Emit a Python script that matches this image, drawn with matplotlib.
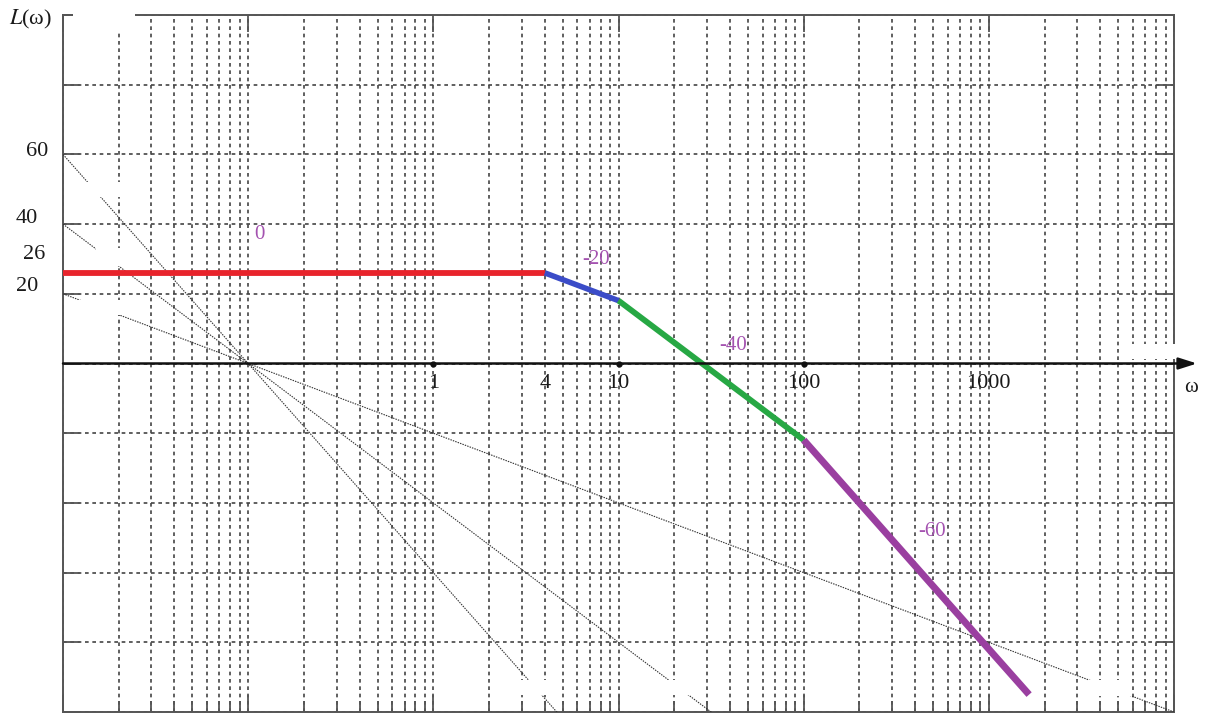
import matplotlib
matplotlib.use('Agg')
import matplotlib.pyplot as plt
import numpy as np
from matplotlib.patches import Rectangle
from matplotlib.ticker import LogLocator, MultipleLocator, NullFormatter

plt.rcParams['font.family'] = ['Liberation Serif', 'DejaVu Serif']
plt.rcParams['mathtext.fontset'] = 'stix'

# asymptotic magnitude: corner frequencies, slopes (dB/dec) and starting level
w_break = [0.01, 4, 10, 100, 1650]
slopes = [0, -20, -40, -60]
L_start = 26
seg_colors = ['#e8242c', '#3b4cc8', '#27a844', '#9a3fa0']
seg_widths = [4.2, 4.0, 4.2, 5.0]

# helper asymptotes, all through (0.1, 0 dB)
ref_w0 = 0.1
ref_slopes = [-20, -40, -60]

x_labels = ['1', '4', '10', '100', '1000']
x_label_w = [1, 4, 10, 100, 1000]
y_labels = ['60', '40', '26', '20']
slope_labels = ['0', '-20', '-40', '-60']
axis_dots = [1, 10, 100]

W, H = 1227, 713
fig = plt.figure(figsize=(W / 100, H / 100), dpi=100)
ax = fig.add_axes([63 / W, 1 / H, 1111 / W, 697 / H])
ax.set_xscale('log')
ax.set_xlim(0.01, 10000)
ax.set_ylim(-100, 100)

# graph paper
ax.xaxis.set_major_locator(LogLocator(base=10, numticks=20))
ax.xaxis.set_minor_locator(LogLocator(base=10, subs=np.arange(2, 10), numticks=20))
ax.xaxis.set_minor_formatter(NullFormatter())
ax.yaxis.set_major_locator(MultipleLocator(20))
grid_kw = dict(color='#444444', lw=1.2, linestyle=(0, (2.2, 2.2)))
ax.grid(True, which='both', axis='x', **grid_kw)
ax.grid(True, which='major', axis='y', **grid_kw)
ax.tick_params(axis='x', which='major', direction='in', length=12, width=1.3,
               color='#555555', top=True, bottom=True, labelbottom=False)
ax.tick_params(axis='x', which='minor', direction='in', length=8, width=1.3,
               color='#555555', top=False, bottom=True)
ax.tick_params(axis='y', which='major', direction='in', length=12, width=1.3,
               color='#555555', left=True, right=True, labelleft=False)
for sp in ax.spines.values():
    sp.set_color('#555555')
    sp.set_linewidth(1.4)

# thin asymptotes
w = np.logspace(-2, 4, 400)
for s in ref_slopes:
    ax.plot(w, s * np.log10(w / ref_w0), color='#333333', lw=0.8,
            linestyle=(0, (1.3, 1.0)), zorder=3)

# erased spots of the sheet
def blank(x0, y0, x1, y1):
    ax.add_patch(Rectangle((x0 / W, 1 - y1 / H), (x1 - x0) / W, (y1 - y0) / H,
                           transform=fig.transFigure, facecolor='white',
                           edgecolor='none', clip_on=False, zorder=3.5))

blank(73, 0, 135, 31)
blank(86, 182, 121, 197)
blank(96, 248, 121, 266)
blank(78, 300, 121, 315)
blank(515, 680, 560, 695)
blank(655, 680, 700, 695)
blank(1088, 680, 1132, 696)
blank(1128, 344, 1227, 359)

# piecewise magnitude curve
L = [L_start]
for i, s in enumerate(slopes):
    L.append(L[-1] + s * np.log10(w_break[i + 1] / w_break[i]))
for i in range(len(slopes)):
    ax.plot(w_break[i:i + 2], L[i:i + 2], color=seg_colors[i], lw=seg_widths[i],
            solid_capstyle='butt', zorder=4)

# frequency axis with arrow
ax.annotate('', xy=(1.0207, 0), xycoords=('axes fraction', 'data'),
            xytext=(0, 0), textcoords=('axes fraction', 'data'),
            arrowprops=dict(arrowstyle='-|>,head_length=1.1,head_width=0.35',
                            color='#111111', lw=1.8, shrinkA=0, shrinkB=0),
            annotation_clip=False, zorder=5)
ax.plot(axis_dots, [0] * len(axis_dots), 'o', color='#111111', ms=3.5, zorder=5)

for txt, xv in zip(x_labels, x_label_w):
    ax.text(xv, -5.8, txt, ha='center', va='center', fontsize=16, color='#1a1a1a')

y_label_pos = [(-0.0135, 60.7), (-0.0225, 41.7), (-0.0162, 31.4), (-0.0225, 22.0)]
for txt, (xf, yv) in zip(y_labels, y_label_pos):
    ax.text(xf, yv, txt, transform=ax.get_yaxis_transform(), ha='right',
            va='center', fontsize=16, color='#1a1a1a')

slope_pos = [(0.1144, 36.9), (7.55, 29.7), (41.5, 5.3), (493, -48.3)]
for txt, (xv, yv) in zip(slope_labels, slope_pos):
    ax.text(xv, yv, txt, ha='center', va='center', fontsize=15,
            color='#a452b0', zorder=6)

ax.text(-0.0099, 98.6, '$L$(ω)', transform=ax.get_yaxis_transform(),
        ha='right', va='center', fontsize=16, color='#1a1a1a')
ax.text(1.0153, -7, 'ω', transform=ax.get_yaxis_transform(), ha='center',
        va='center', fontsize=15, color='#1a1a1a')

fig.savefig('out.png', dpi=100)
